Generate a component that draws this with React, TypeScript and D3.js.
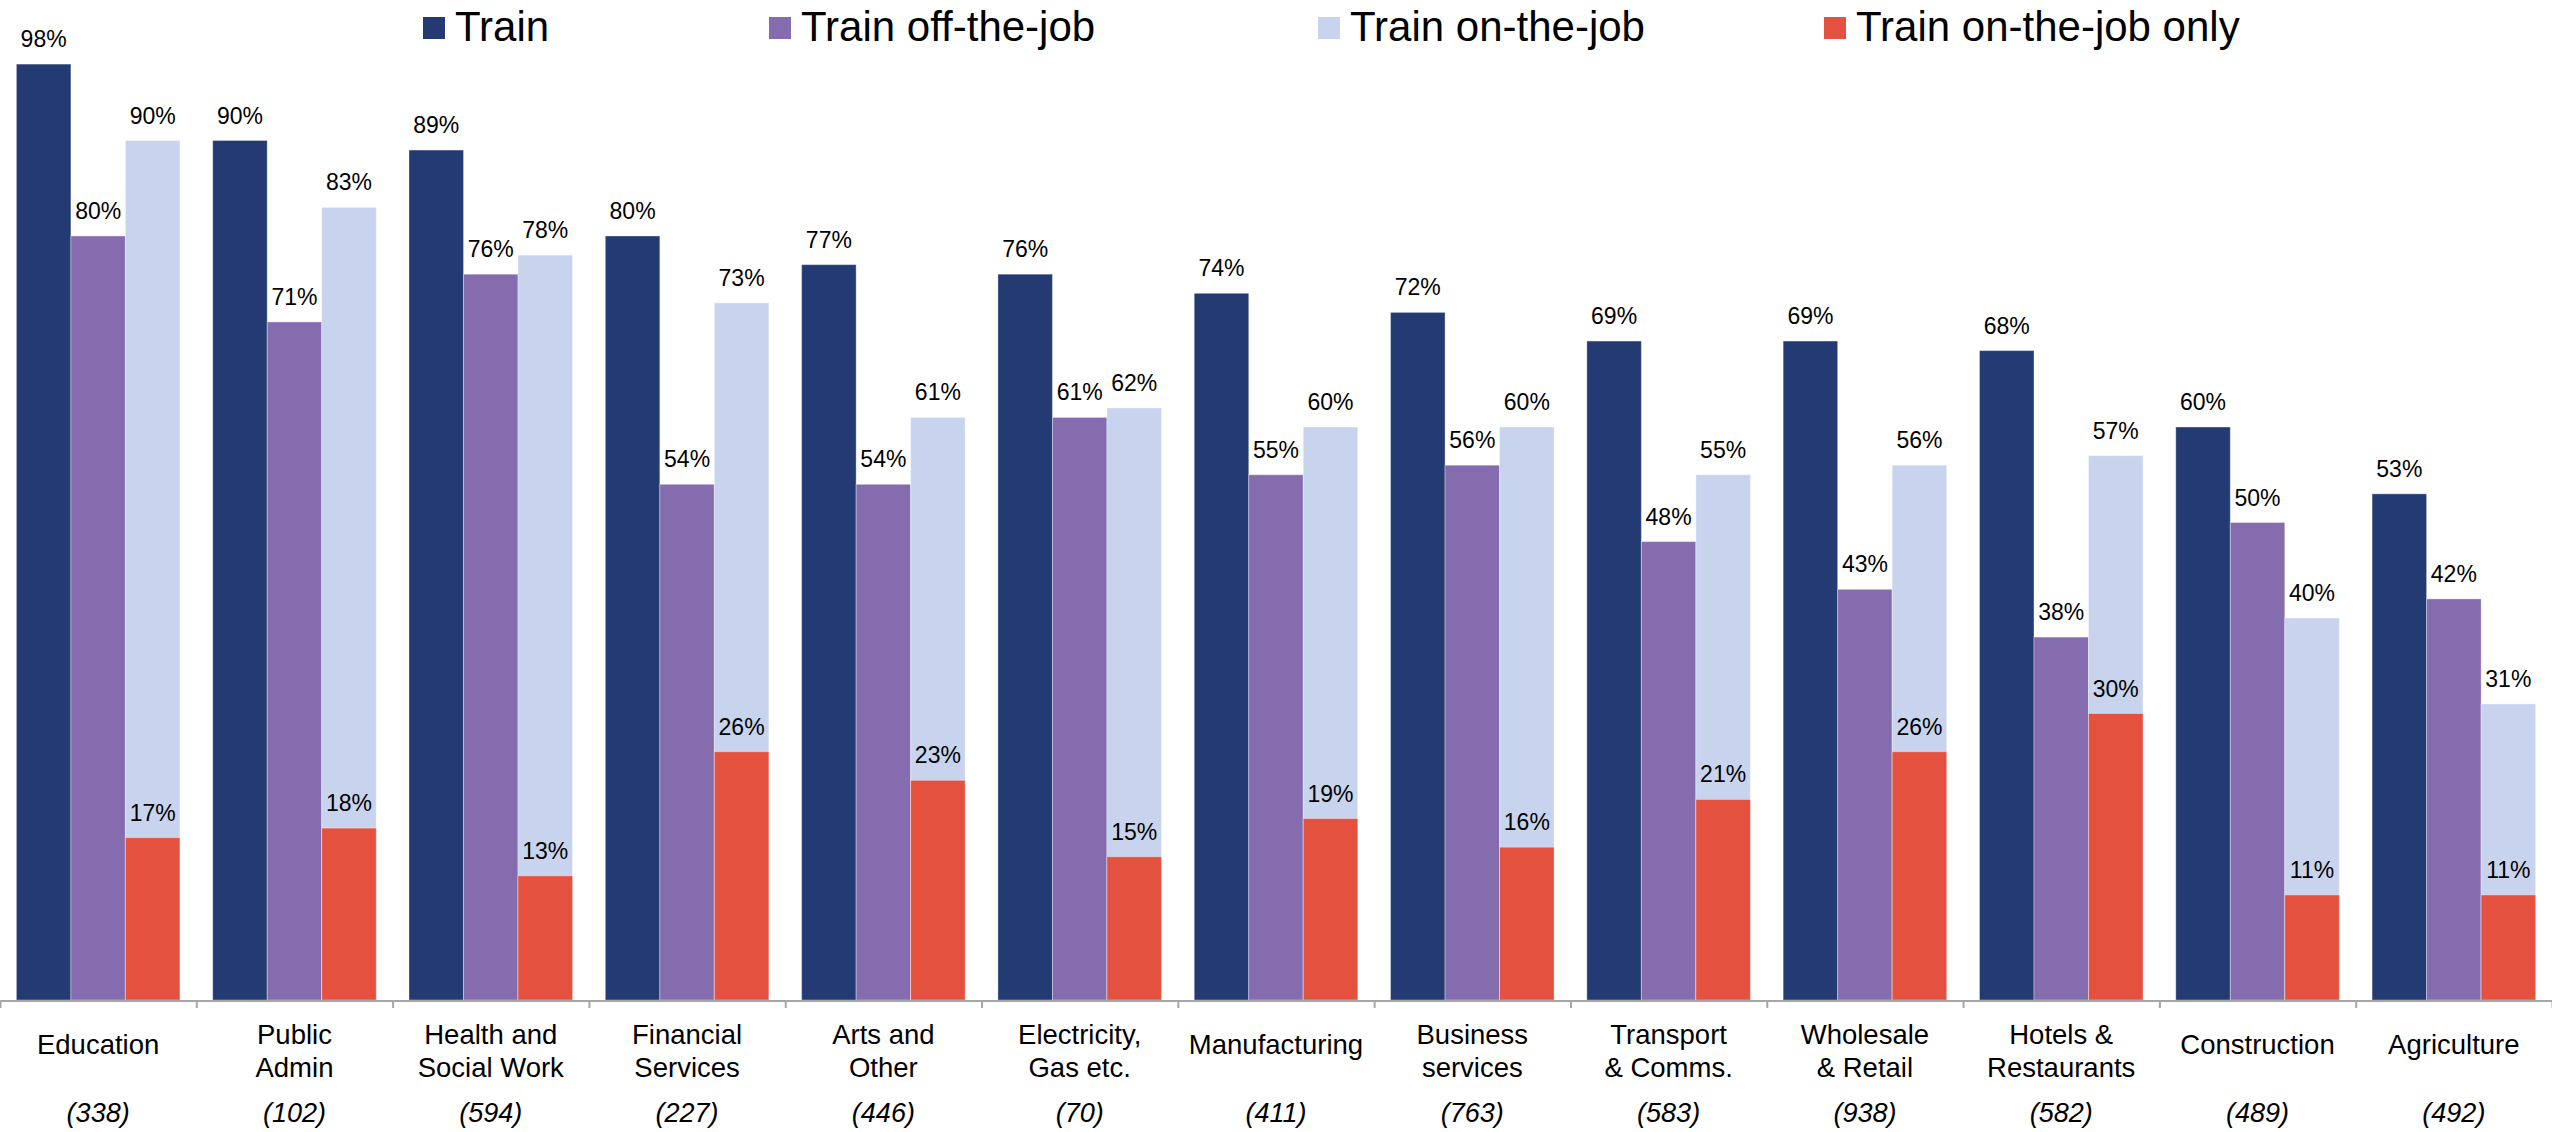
import React from "react";
import * as d3 from "d3";

const categories: string[][] = [
  ["Education"],
  ["Public", "Admin"],
  ["Health and", "Social Work"],
  ["Financial", "Services"],
  ["Arts and", "Other"],
  ["Electricity,", "Gas etc."],
  ["Manufacturing"],
  ["Business", "services"],
  ["Transport", "& Comms."],
  ["Wholesale", "& Retail"],
  ["Hotels &", "Restaurants"],
  ["Construction"],
  ["Agriculture"],
];
const counts = [338, 102, 594, 227, 446, 70, 411, 763, 583, 938, 582, 489, 492];

const train = [98, 90, 89, 80, 77, 76, 74, 72, 69, 69, 68, 60, 53];
const trainOff = [80, 71, 76, 54, 54, 61, 55, 56, 48, 43, 38, 50, 42];
const trainOn = [90, 83, 78, 73, 61, 62, 60, 60, 55, 56, 57, 40, 31];
const trainOnOnly = [17, 18, 13, 26, 23, 15, 19, 16, 21, 26, 30, 11, 11];

const seriesNames = ["Train", "Train off-the-job", "Train on-the-job", "Train on-the-job only"];
const seriesColors = ["#243A73", "#846CAE", "#C8D4EE", "#E5513F"];
// slot index within group for each series (on-the-job only overlays on-the-job)
const seriesSlot = [0, 1, 2, 2];
const seriesValues = [train, trainOff, trainOn, trainOnOnly];

const legendX = [423, 769, 1318, 1824];

const W = 2552;
const H = 1132;
const baseY = 1000;

export default function App() {
  const keys = categories.map((c) => c.join(" "));
  const x0 = d3
    .scaleBand<string>()
    .domain(keys)
    .range([0, W])
    .paddingInner(0.167)
    .paddingOuter(0.0835);
  const x1 = d3.scaleBand<number>().domain([0, 1, 2]).range([0, x0.bandwidth()]);
  const y = d3.scaleLinear().domain([0, 100]).range([baseY, baseY - 955]);
  const step = x0.step();

  const font = "'Liberation Sans', Arial, sans-serif";

  return (
    <div style={{ position: "absolute", left: 0, top: 0 }}>
      <svg width={W} height={H} style={{ display: "block", background: "#fff" }} fontFamily={font}>
        {/* bars */}
        {seriesValues.map((vals, si) => (
          <g key={si}>
            {vals.map((v, ci) => {
              const bx = (x0(keys[ci]) as number) + (x1(seriesSlot[si]) as number);
              return (
                <rect
                  key={ci}
                  x={bx}
                  y={y(v)}
                  width={x1.bandwidth()}
                  height={baseY - y(v)}
                  fill={seriesColors[si]}
                  stroke="rgba(255,255,255,0.35)"
                  strokeWidth={1}
                />
              );
            })}
          </g>
        ))}
        {/* value labels */}
        {seriesValues.map((vals, si) => (
          <g key={"l" + si}>
            {vals.map((v, ci) => {
              const cx = (x0(keys[ci]) as number) + (x1(seriesSlot[si]) as number) + x1.bandwidth() / 2;
              return (
                <text key={ci} x={cx} y={y(v) - 17} textAnchor="middle" fontSize={23} fill="#000">
                  {v}%
                </text>
              );
            })}
          </g>
        ))}
        {/* axis */}
        <line x1={0} x2={W} y1={baseY + 1} y2={baseY + 1} stroke="#A6A6A6" strokeWidth={2} />
        {d3.range(0, categories.length + 1).map((i) => (
          <line key={i} x1={i * step + 0.5} x2={i * step + 0.5} y1={baseY} y2={baseY + 8} stroke="#A6A6A6" strokeWidth={2} />
        ))}
        {/* category labels */}
        {categories.map((lines, ci) => {
          const cx = (x0(keys[ci]) as number) + x0.bandwidth() / 2;
          const ys = lines.length === 1 ? [1054] : [1044, 1077];
          return (
            <g key={ci}>
              {lines.map((ln, li) => (
                <text key={li} x={cx} y={ys[li]} textAnchor="middle" fontSize={27.5} fill="#000">
                  {ln}
                </text>
              ))}
              <text x={cx} y={1122} textAnchor="middle" fontSize={27} fontStyle="italic" fill="#000">
                ({counts[ci]})
              </text>
            </g>
          );
        })}
        {/* legend */}
        {seriesNames.map((name, si) => (
          <g key={"lg" + si}>
            <rect x={legendX[si]} y={17} width={22} height={22} fill={seriesColors[si]} />
            <text x={legendX[si] + 32} y={41} fontSize={42} fill="#000">
              {name}
            </text>
          </g>
        ))}
      </svg>
    </div>
  );
}
